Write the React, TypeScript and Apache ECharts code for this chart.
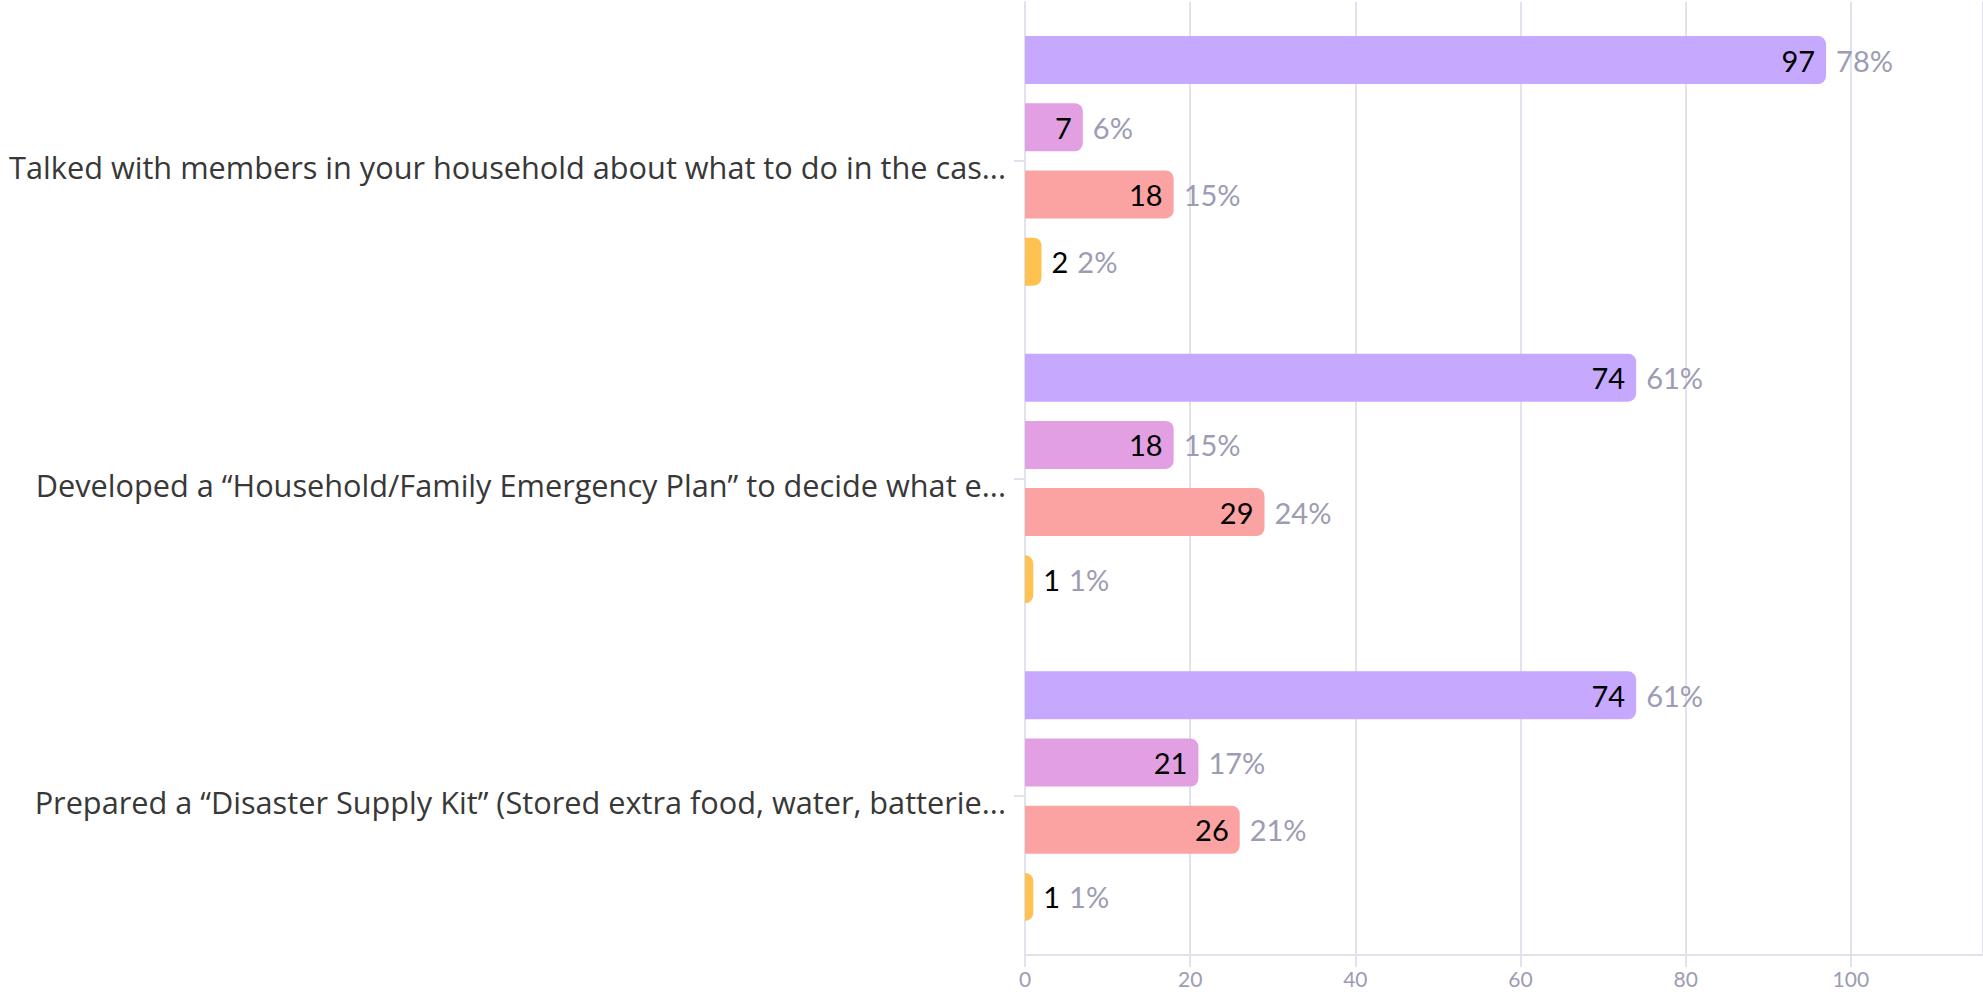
import React, { useEffect, useRef } from "react";
import * as echarts from "echarts";

const categories = [
  "Talked with members in your household about what to do in the cas...",
  "Developed a “Household/Family Emergency Plan” to decide what e...",
  "Prepared a “Disaster Supply Kit” (Stored extra food, water, batterie...",
];
const seriesNames = ["Yes", "No", "Not sure", "Prefer not to say"];
const seriesColors = ["#c6a9ff", "#e2a0e2", "#fba3a3", "#ffc250"];
const countsYes = [97, 74, 74];
const countsNo = [7, 18, 21];
const countsNotSure = [18, 29, 26];
const countsPrefer = [2, 1, 1];
const pctYes = [78, 61, 61];
const pctNo = [6, 15, 17];
const pctNotSure = [15, 24, 21];
const pctPrefer = [2, 1, 1];
const xTicks = [0, 20, 40, 60, 80, 100];

const counts = [countsYes, countsNo, countsNotSure, countsPrefer];
const pcts = [pctYes, pctNo, pctNotSure, pctPrefer];
const INSIDE_MIN = 5; // values below this show their count outside the bar

export default function App() {
  const ref = useRef<HTMLDivElement>(null);
  useEffect(() => {
    document.body.style.margin = "0";
    const chart = echarts.init(ref.current!, null, { renderer: "svg" });
    const font = "Lato";
    const catFont = "Open Sans";
    const gridColor = "#e2e2ee";
    const barSeries: any[] = counts.map((vals, i) => ({
      name: seriesNames[i],
      type: "bar",
      yAxisIndex: 0,
      barWidth: 48,
      barGap: "40%",
      data: vals,
      itemStyle: { color: seriesColors[i], borderRadius: [0, 8, 8, 0] },
      label: {
        show: true,
        position: "insideRight",
        distance: 11,
        color: "#000",
        fontFamily: font,
        fontSize: 29,
        formatter: (p: any) => (p.value >= INSIDE_MIN ? String(p.value) : ""),
      },
    }));
    const labelSeries: any[] = counts.map((vals, i) => ({
      name: seriesNames[i] + " %",
      type: "bar",
      yAxisIndex: 1,
      barWidth: 48,
      barGap: "40%",
      silent: true,
      data: vals,
      itemStyle: { color: "rgba(0,0,0,0)" },
      label: {
        show: true,
        position: "right",
        distance: 10,
        fontFamily: font,
        formatter: (p: any) => {
          const pc = pcts[i][p.dataIndex] + "%";
          return p.value >= INSIDE_MIN ? `{p|${pc}}` : `{v|${p.value}}{p|${pc}}`;
        },
        rich: {
          v: { color: "#000", fontSize: 29, fontFamily: font, padding: [0, 9, 0, 0] },
          p: { color: "#9c9cb4", fontSize: 29, fontFamily: font },
        },
      },
    }));
    chart.setOption({
      animation: false,
      grid: {
        left: 1025,
        right: 0,
        top: 2,
        bottom: 40,
        containLabel: false,
        outerBoundsMode: "none",
      },
      xAxis: {
        type: "value",
        min: 0,
        max: 116,
        interval: 20,
        axisLine: { show: true, lineStyle: { color: gridColor, width: 2 } },
        axisTick: { show: true, length: 12, lineStyle: { color: gridColor, width: 2 } },
        splitLine: { show: true, lineStyle: { color: gridColor, width: 2 } },
        axisLabel: {
          color: "#9c9cb4",
          fontSize: 21,
          fontFamily: font,
          margin: 13,
          showMaxLabel: false,
          formatter: (v: number) => (xTicks.includes(v) ? String(v) : ""),
        },
      },
      yAxis: [
        {
          type: "category",
          inverse: true,
          data: categories,
          axisLine: { show: true, lineStyle: { color: gridColor, width: 2 } },
          axisTick: { show: true, alignWithLabel: true, length: 11, lineStyle: { color: gridColor, width: 2 } },
          axisLabel: {
            margin: 19,
            formatter: (v: string) => `{t|${v}}`,
            rich: {
              t: {
                color: "#383838",
                fontSize: 30.7,
                fontFamily: catFont,
                padding: [12, 0, 0, 0],
              },
            },
          },
        },
        {
          type: "category",
          inverse: true,
          data: categories,
          show: false,
        },
      ],
      series: [...barSeries, ...labelSeries],
    });
    return () => chart.dispose();
  }, []);
  return <div ref={ref} style={{ width: 1983, height: 995 }} />;
}
